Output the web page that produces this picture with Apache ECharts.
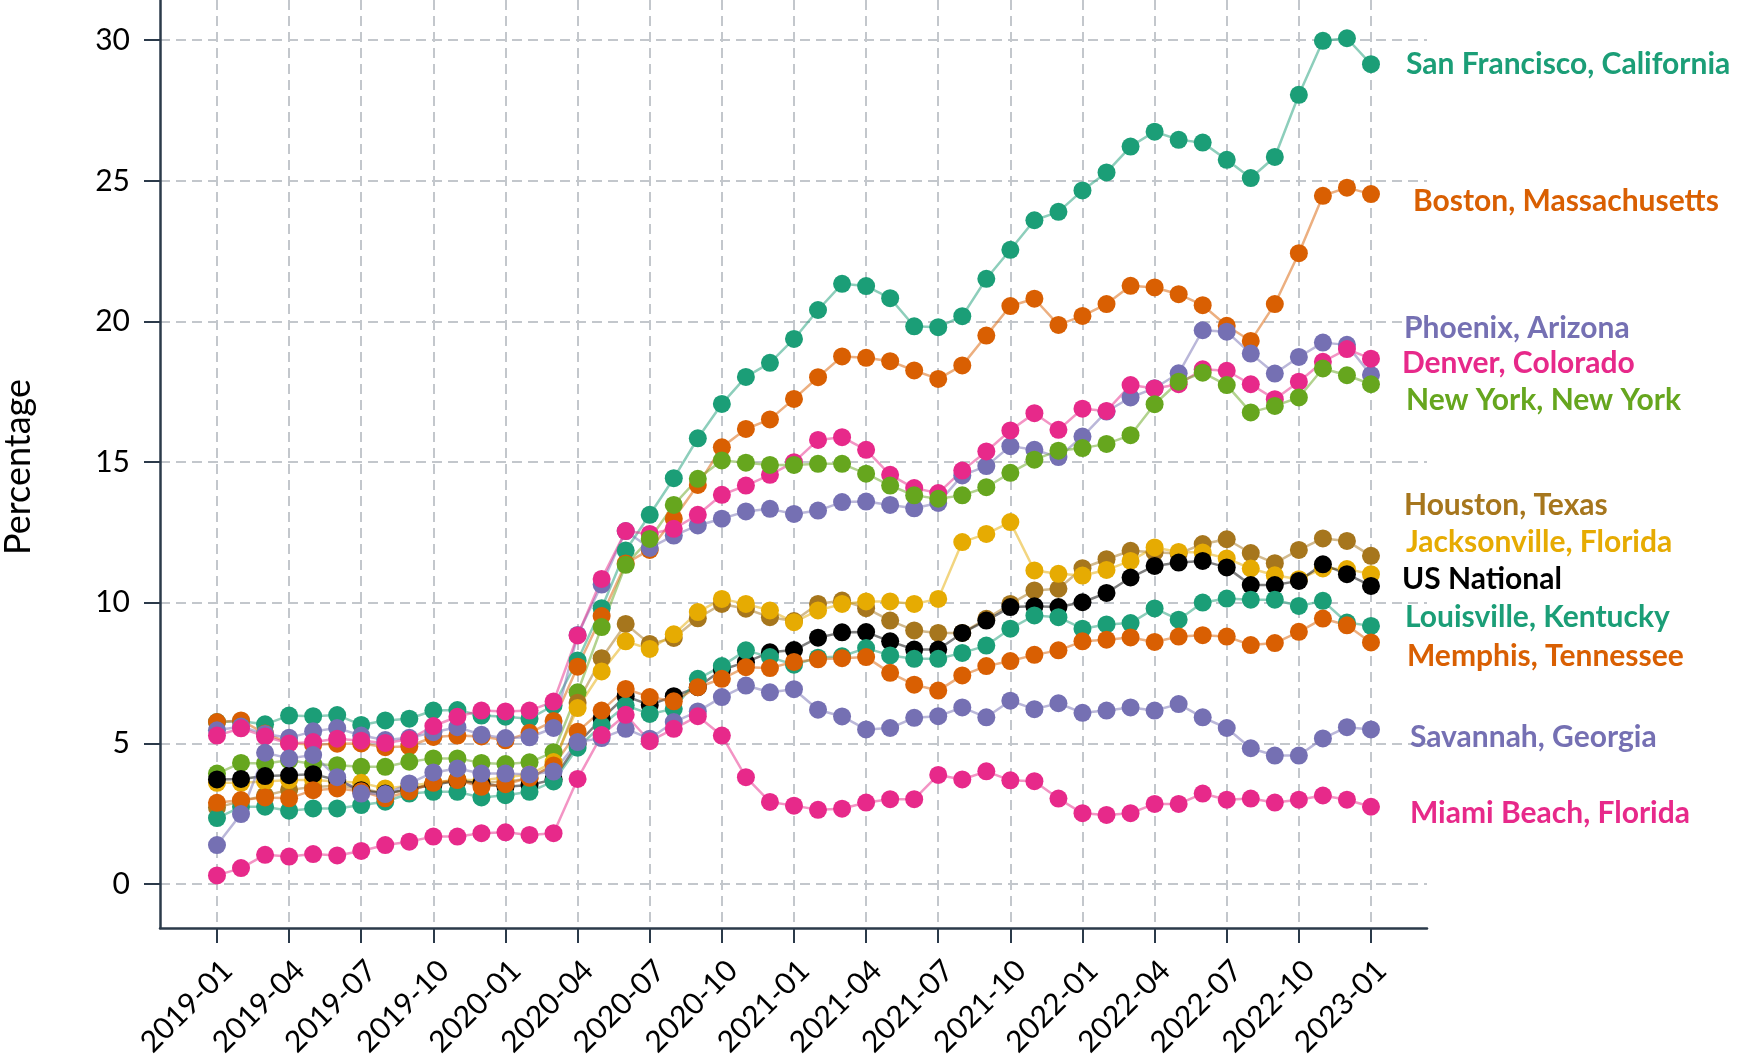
<!DOCTYPE html>
<html>
<head>
<meta charset="utf-8">
<title>Share of listings by metro, 2019–2023</title>
<script src="https://cdn.jsdelivr.net/npm/echarts@6/dist/echarts.min.js"></script>
<style>
  html, body { margin: 0; padding: 0; background: #ffffff; }
  #chart { width: 1737px; height: 1057px; }
</style>
</head>
<body>
<div id="chart"></div>
<script>
// Monthly periods on the x axis (index 0 = 2019-01)
const months = [
  '2019-01','2019-02','2019-03','2019-04','2019-05','2019-06','2019-07','2019-08','2019-09','2019-10','2019-11','2019-12',
  '2020-01','2020-02','2020-03','2020-04','2020-05','2020-06','2020-07','2020-08','2020-09','2020-10','2020-11','2020-12',
  '2021-01','2021-02','2021-03','2021-04','2021-05','2021-06','2021-07','2021-08','2021-09','2021-10','2021-11','2021-12',
  '2022-01','2022-02','2022-03','2022-04','2022-05','2022-06','2022-07','2022-08','2022-09','2022-10','2022-11','2022-12',
  '2023-01'
];
// Labelled months (quarterly) and labelled percentages
const xTickIndex = [0, 3, 6, 9, 12, 15, 18, 21, 24, 27, 30, 33, 36, 39, 42, 45, 48];
const yTickValues = [0, 5, 10, 15, 20, 25, 30];

// Percentage by metro, one value per month
const sanFrancisco = [5.76,5.79,5.68,5.99,5.97,6.01,5.66,5.82,5.88,6.17,6.19,5.99,5.95,5.88,6.35,
  7.95,9.81,11.86,13.13,14.43,15.85,17.07,18.03,18.53,19.38,
  20.41,21.34,21.26,20.83,19.83,19.80,20.19,21.52,22.55,23.60,
  23.90,24.66,25.30,26.22,26.75,26.46,26.36,25.75,25.10,25.85,
  28.06,29.98,30.07,29.15];
const boston = [5.76,5.82,5.35,5.02,4.95,4.99,5.00,4.87,4.90,5.23,5.28,5.25,5.11,5.38,5.80,
  7.73,9.53,11.40,11.88,12.99,14.19,15.53,16.18,16.52,17.25,
  18.02,18.76,18.71,18.59,18.26,17.96,18.44,19.50,20.55,20.81,
  19.88,20.20,20.62,21.27,21.21,20.97,20.58,19.85,19.31,20.62,
  22.43,24.47,24.76,24.53];
const phoenix = [5.47,5.60,5.34,5.20,5.43,5.55,5.28,5.12,5.20,5.40,5.58,5.31,5.19,5.22,5.55,
  8.86,10.65,12.55,11.95,12.39,12.75,12.99,13.25,13.34,13.16,
  13.28,13.58,13.60,13.48,13.36,13.55,14.53,14.86,15.57,15.44,
  15.18,15.91,16.80,17.30,17.63,18.16,19.69,19.64,18.86,18.15,
  18.74,19.25,19.17,18.10];
const denver = [5.28,5.54,5.25,5.00,5.05,5.17,5.10,5.02,5.15,5.62,5.95,6.17,6.14,6.17,6.49,
  8.84,10.85,12.55,12.45,12.63,13.13,13.84,14.17,14.55,15.00,
  15.79,15.89,15.44,14.55,14.08,13.90,14.70,15.38,16.13,16.74,
  16.15,16.90,16.82,17.74,17.62,17.77,18.30,18.25,17.77,17.24,
  17.86,18.57,19.02,18.68];
const newYork = [3.93,4.31,4.29,4.40,4.27,4.23,4.17,4.17,4.35,4.47,4.47,4.31,4.27,4.33,4.69,
  6.82,9.14,11.35,12.27,13.48,14.41,15.06,14.98,14.90,14.90,
  14.94,14.94,14.59,14.17,13.82,13.70,13.82,14.11,14.62,15.09,
  15.41,15.50,15.65,15.96,17.06,17.86,18.18,17.74,16.77,17.00,
  17.30,18.33,18.09,17.77];
const houston = [2.72,2.95,3.15,3.35,3.45,3.50,3.40,3.22,3.35,3.60,3.65,3.60,3.65,3.75,4.25,
  6.45,8.03,9.25,8.54,8.75,9.45,9.96,9.79,9.49,9.35,
  9.96,10.08,9.81,9.37,9.02,8.93,8.93,9.43,9.96,10.44,
  10.50,11.23,11.55,11.85,11.80,11.75,12.09,12.26,11.77,11.41,
  11.88,12.29,12.20,11.67];
const jacksonville = [3.60,3.60,3.65,3.70,3.70,3.65,3.60,3.40,3.50,3.60,3.72,3.68,3.80,3.90,4.34,
  6.26,7.56,8.63,8.36,8.88,9.67,10.14,9.96,9.73,9.31,
  9.73,9.96,10.05,10.05,9.96,10.14,12.16,12.45,12.87,11.15,
  11.03,10.97,11.17,11.49,11.97,11.81,11.79,11.58,11.22,10.98,
  10.84,11.22,11.20,11.02];
const usNational = [3.72,3.74,3.84,3.87,3.91,3.70,3.34,3.22,3.38,3.52,3.68,3.58,3.46,3.52,3.72,
  4.99,5.88,6.68,6.37,6.68,7.00,7.62,7.89,8.24,8.32,
  8.76,8.95,8.96,8.63,8.34,8.34,8.93,9.37,9.85,9.88,
  9.85,10.02,10.35,10.90,11.31,11.43,11.49,11.26,10.63,10.63,
  10.78,11.37,11.02,10.60];
const louisville = [2.35,2.75,2.75,2.61,2.69,2.69,2.81,2.93,3.22,3.28,3.28,3.08,3.16,3.28,3.65,
  4.85,5.64,6.35,6.05,6.23,7.30,7.75,8.31,8.07,7.80,
  8.05,8.10,8.39,8.13,8.01,8.01,8.22,8.48,9.08,9.55,
  9.49,9.08,9.23,9.28,9.80,9.40,10.01,10.15,10.11,10.11,
  9.89,10.07,9.30,9.18];
const memphis = [2.89,2.99,3.08,3.05,3.34,3.40,3.30,3.05,3.30,3.60,3.70,3.46,3.55,3.78,4.22,
  5.42,6.17,6.94,6.65,6.50,7.00,7.30,7.71,7.68,7.90,
  7.99,8.03,8.07,7.51,7.09,6.88,7.42,7.75,7.93,8.15,
  8.31,8.63,8.69,8.77,8.61,8.80,8.85,8.80,8.50,8.57,
  8.97,9.44,9.20,8.59];
const savannah = [1.39,2.49,4.67,4.47,4.59,3.80,3.22,3.20,3.58,3.97,4.11,3.93,3.93,3.90,4.00,
  5.05,5.19,5.52,5.17,5.76,6.14,6.65,7.06,6.82,6.93,
  6.20,5.96,5.50,5.55,5.91,5.97,6.28,5.93,6.52,6.22,
  6.43,6.09,6.17,6.28,6.17,6.40,5.93,5.55,4.83,4.57,
  4.57,5.18,5.58,5.50];
const miamiBeach = [0.31,0.57,1.04,0.98,1.07,1.02,1.18,1.39,1.51,1.69,1.69,1.81,1.84,1.75,1.81,
  3.74,5.30,6.02,5.08,5.52,5.97,5.28,3.80,2.92,2.79,
  2.64,2.68,2.90,3.02,3.02,3.88,3.72,4.01,3.69,3.66,
  3.04,2.52,2.46,2.52,2.85,2.85,3.22,3.00,3.04,2.90,
  3.00,3.15,3.00,2.75];

// Series definitions: name, colour, values, end-label nudge [dx, dy] in px
const metros = [
  { name: 'San Francisco, California', color: '#1b9e77', values: sanFrancisco, nudge: [35, 0] },
  { name: 'Boston, Massachusetts',     color: '#d95f02', values: boston,       nudge: [42, 7] },
  { name: 'Phoenix, Arizona',          color: '#7570b3', values: phoenix,      nudge: [33, -47] },
  { name: 'Denver, Colorado',          color: '#e7298a', values: denver,       nudge: [31, 5] },
  { name: 'New York, New York',        color: '#66a61e', values: newYork,      nudge: [35, 16] },
  { name: 'Houston, Texas',            color: '#a6761d', values: houston,      nudge: [33, -51] },
  { name: 'Jacksonville, Florida',     color: '#e6ab02', values: jacksonville, nudge: [35, -32] },
  { name: 'US National',               color: '#000000', values: usNational,   nudge: [31, -7] },
  { name: 'Louisville, Kentucky',      color: '#1b9e77', values: louisville,   nudge: [34, -9] },
  { name: 'Memphis, Tennessee',        color: '#d95f02', values: memphis,      nudge: [36, 14] },
  { name: 'Savannah, Georgia',         color: '#7570b3', values: savannah,     nudge: [39, 8] },
  { name: 'Miami Beach, Florida',      color: '#e7298a', values: miamiBeach,   nudge: [39, 7] }
];

const AXIS_COLOR = '#2b3a4a';
const GRID_COLOR = '#c3c7cc';
const FONT = 'Lato, "Noto Sans", sans-serif';

const chart = echarts.init(document.getElementById('chart'), null, { renderer: 'canvas' });

const series = metros.map(m => ({
  name: m.name,
  type: 'line',
  data: m.values.map((v, i) => [i, v]),
  symbol: 'circle',
  symbolSize: 18,
  showSymbol: true,
  itemStyle: { color: m.color, opacity: 1 },
  lineStyle: { color: m.color, width: 2.5, opacity: 0.5 },
  emphasis: { disabled: true },
  endLabel: {
    show: true,
    formatter: m.name,
    color: m.color,
    fontFamily: FONT,
    fontWeight: 'bold',
    fontSize: 30,
    distance: 0,
    offset: m.nudge
  }
}));

chart.setOption({
  animation: false,
  backgroundColor: '#ffffff',
  grid: { left: 160, right: 310, top: 0, bottom: 129, containLabel: false, outerBoundsMode: 'none' },
  xAxis: {
    type: 'value',
    min: -2.37,
    max: 50.33,
    axisLine: { show: true, onZero: false, lineStyle: { color: AXIS_COLOR, width: 2.5 } },
    axisTick: {
      show: true, inside: false, length: 15,
      customValues: xTickIndex,
      lineStyle: { color: AXIS_COLOR, width: 2 }
    },
    axisLabel: {
      show: true,
      customValues: xTickIndex,
      rotate: 45,
      margin: 27,
      verticalAlign: 'top',
      fontFamily: FONT,
      fontSize: 30,
      color: '#000000',
      formatter: v => months[Math.round(v)]
    },
    splitLine: { show: true, lineStyle: { color: GRID_COLOR, width: 2, type: [10, 6] } }
  },
  yAxis: {
    type: 'value',
    min: -1.56,
    max: 31.43,
    name: 'Percentage',
    nameLocation: 'middle',
    nameGap: 124,
    nameTextStyle: { fontFamily: FONT, fontSize: 36, color: '#000000', padding: [0, 6, 0, 0] },
    axisLine: { show: true, onZero: false, lineStyle: { color: AXIS_COLOR, width: 2.5 } },
    axisTick: {
      show: true, inside: false, length: 16,
      customValues: yTickValues,
      lineStyle: { color: AXIS_COLOR, width: 2 }
    },
    axisLabel: {
      show: true,
      customValues: yTickValues,
      margin: 30,
      fontFamily: FONT,
      fontSize: 30,
      color: '#000000',
      formatter: v => String(v)
    },
    splitLine: { show: true, lineStyle: { color: GRID_COLOR, width: 2, type: [10, 6] } }
  },
  series: series
});
</script>
</body>
</html>
